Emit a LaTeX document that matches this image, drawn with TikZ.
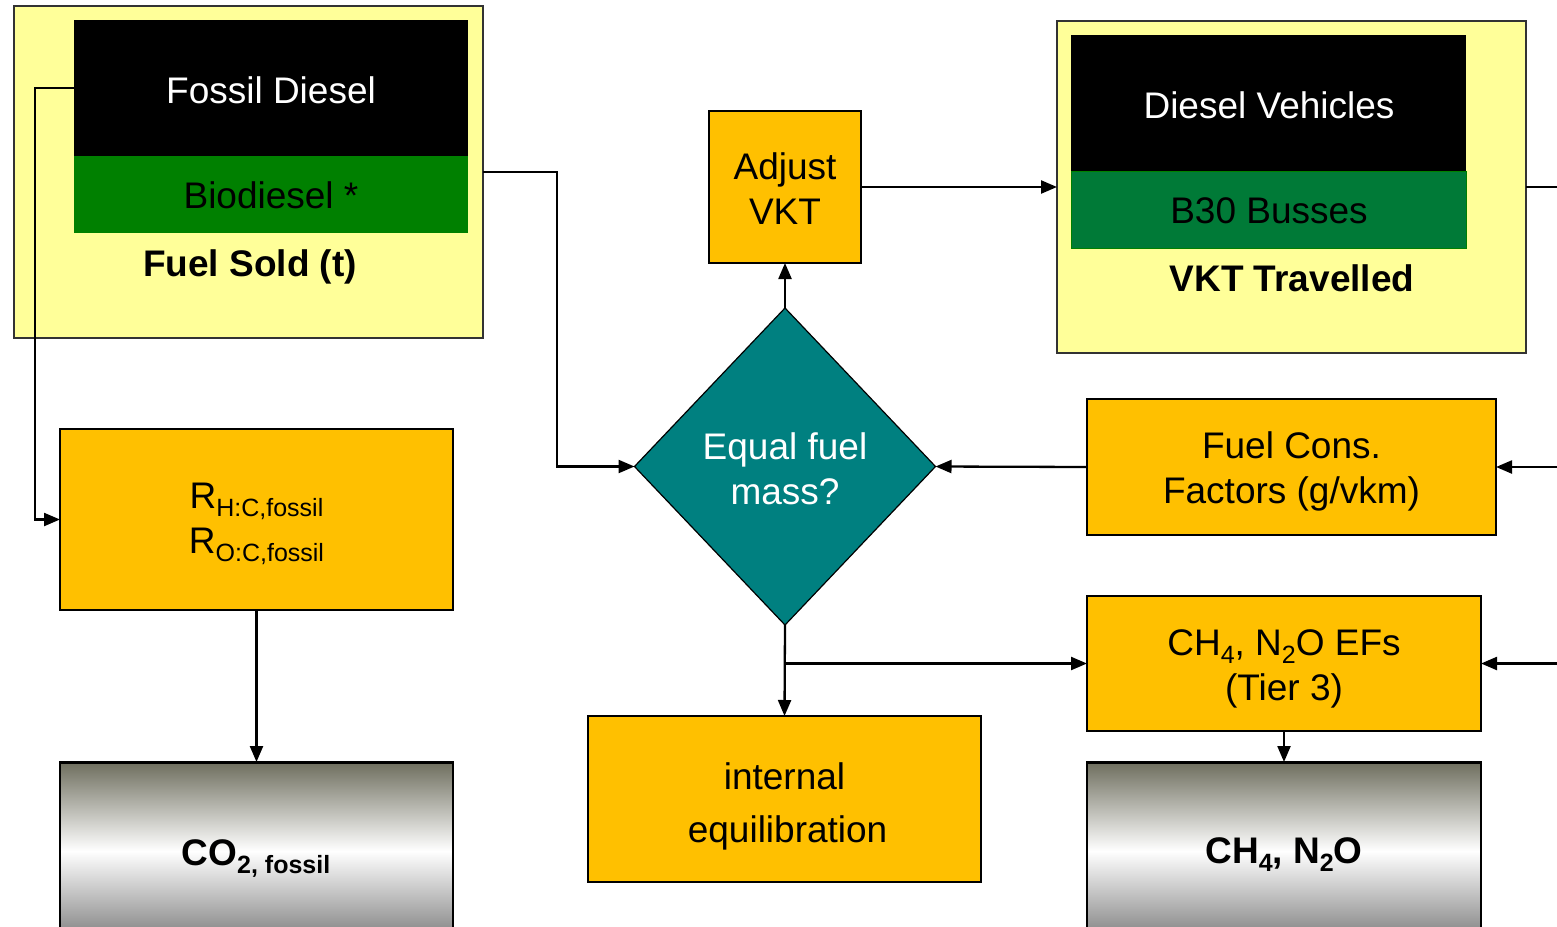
\documentclass[tikz,border=0pt]{standalone}
\usepackage{fontspec}
\setmainfont{Liberation Sans}
\usetikzlibrary{arrows.meta,shapes.geometric}
\definecolor{pyellow}{HTML}{FFFF99}
\definecolor{porange}{HTML}{FFC000}
\definecolor{pteal}{HTML}{008080}
\definecolor{pgreenA}{HTML}{008000}
\definecolor{pgreenB}{HTML}{007A37}
\definecolor{pgrayT}{RGB}{110,110,94}
\definecolor{pgrayB}{RGB}{128,128,128}
\newcommand\lowsub[1]{\raisebox{-8pt}{\fontsize{25}{25}\selectfont #1}}
\tikzset{
  big/.style={font=\fontsize{37}{45}\selectfont},
  bigb/.style={font=\fontsize{37}{45}\selectfont\bfseries},
  outerbox/.style={draw=black!80, line width=1.6pt, fill=pyellow, inner sep=0pt, outer sep=0pt},
  plainbox/.style={inner sep=0pt, outer sep=0pt},
  obox/.style={draw=black, line width=1.6pt, fill=porange, inner sep=0pt, outer sep=0pt},
  graybox/.style={draw=black, line width=1.2pt, top color=pgrayT, bottom color=pgrayB, middle color=white, inner sep=0pt, outer sep=0pt},
  arr/.style={line width=2.3pt, -{Triangle[length=16pt,width=13pt]}},
  ln/.style={line width=2.3pt},
  lbl/.style={inner sep=0pt, align=center}
}
\begin{document}
\begin{tikzpicture}[x=1pt,y=-1pt]
\useasboundingbox (0,0) rectangle (1557,926);
\clip (0,0) rectangle (1557,926);
\fill[white] (0,0) rectangle (1557,926);

% Fuel sold block
\node[outerbox, minimum width=469pt, minimum height=332pt] (fuelsold) at (248.5,172) {};
\node[plainbox, fill=black, minimum width=394pt, minimum height=136pt] (fossil) at (271,88) {};
\node[plainbox, fill=pgreenA, minimum width=394pt, minimum height=77pt] (bio) at (271,194.5) {};
\node[lbl, big, text=white] (fossiltxt) at (271,90) {Fossil Diesel};
\node[lbl, big] (biotxt) at (271,195) {Biodiesel *};
\node[lbl, bigb] (fuellbl) at (250,267) {Fuel Sold (t)};

% VKT block
\node[outerbox, minimum width=469pt, minimum height=332pt] (vkt) at (1291.5,187) {};
\node[plainbox, fill=black, minimum width=395pt, minimum height=136pt] (dveh) at (1268.5,103) {};
\node[plainbox, fill=pgreenB, draw=green!50!black, line width=1pt, minimum width=395pt, minimum height=77pt] (b30) at (1268.5,209.5) {};
\node[lbl, big, text=white] (dvehtxt) at (1269,105) {Diesel Vehicles};
\node[lbl, big] (b30txt) at (1269,211) {B30 Busses};
\node[lbl, bigb] (vktlbl) at (1292,278) {VKT Travelled};

% Adjust VKT
\node[obox, minimum width=152pt, minimum height=152pt] (adj) at (785,187) {};
\node[lbl, big] (adjtxt) at (785,189) {Adjust\\VKT};

% Diamond
\node[diamond, draw=black, line width=1.2pt, fill=pteal, inner sep=0pt, outer sep=0pt,
      minimum width=301pt, minimum height=317pt] (dia) at (785,466.5) {};
\node[lbl, big, text=white] (diatxt) at (785,469) {Equal fuel\\mass?};

% Right boxes
\node[obox, minimum width=409pt, minimum height=136pt] (fcons) at (1291.5,467) {};
\node[lbl, big] (fconstxt) at (1291.5,471.5) {Fuel Cons.\\Factors (g/vkm)};
\node[obox, minimum width=394pt, minimum height=135pt] (efs) at (1284,663.5) {};
\node[lbl, big] (efstxt) at (1284,668.5) {CH\lowsub{4}, N\lowsub{2}O EFs\\(Tier 3)};

% Left R box
\node[obox, minimum width=393pt, minimum height=181pt] (rbox) at (256.5,519.5) {};
\node[lbl, big] (rtxt) at (256.5,524) {R\lowsub{H:C,fossil}\\R\lowsub{O:C,fossil}};

% internal equilibration
\node[obox, minimum width=393pt, minimum height=166pt] (ieq) at (784.5,799) {};
\node[lbl, big] (ieqtxt) at (784.5,806.5) {internal\\[8pt]\,equilibration};

% Gray result boxes
\node[graybox, minimum width=393pt, minimum height=178pt] (co2) at (256.5,851) {};
\draw[line width=3pt] (co2.north west) -- (co2.north east);
\node[lbl, bigb] (co2txt) at (256,859) {CO\lowsub{2, fossil}};
\node[graybox, minimum width=394pt, minimum height=178pt] (ch4) at (1284,851) {};
\draw[line width=3pt] (ch4.north west) -- (ch4.north east);
\node[lbl, bigb] (ch4txt) at (1284,855) {CH\lowsub{4}, N\lowsub{2}O};

% edge coordinates
\coordinate (e1) at (1557,187);
\coordinate (e2) at (1557,467);
\coordinate (e3) at (1557,663.5);
\coordinate (j) at (dia.south |- efs.west);

% connectors
\draw[arr] (fossil.west) -- ++(-39,0) |- (rbox.west);
\draw[arr] (fuelsold.east) -- ++(74,0) |- (dia.west);
\draw[arr] (dia.north) -- (adj.south);
\draw[arr] (adj.east) -- (vkt.west);
\draw[ln] (vkt.east) -- (e1);
\draw[arr] (fcons.west) -- (dia.east);
\draw[arr] (e2) -- (fcons.east);
\draw[arr] (e3) -- (efs.east);
\draw[arr] (dia.south) -- (ieq.north);
\draw[arr] (j) -- (efs.west);
\draw[arr] (efs.south) -- (ch4.north);
\draw[arr] (rbox.south) -- (co2.north);
\end{tikzpicture}
\end{document}
